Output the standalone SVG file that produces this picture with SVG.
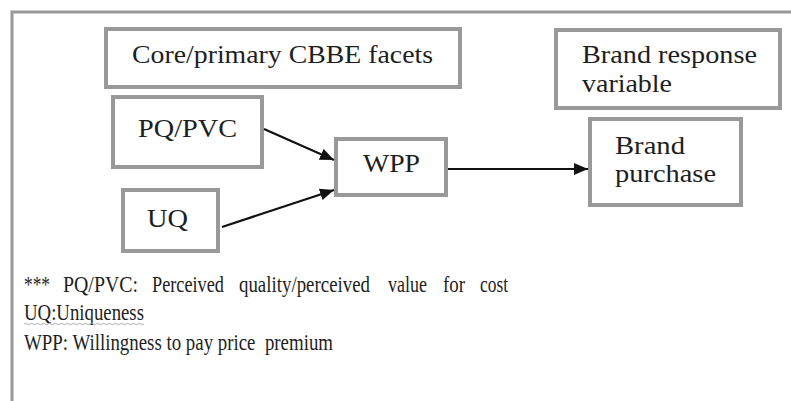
<svg xmlns="http://www.w3.org/2000/svg" width="791" height="401" viewBox="0 0 791 401">
<style>
.box{fill:#fff;stroke:#999;stroke-width:4}
.t{font-family:"Liberation Serif","Times New Roman",serif;font-size:25px;fill:#1e1e1e}
.l{font-family:"Liberation Serif","Times New Roman",serif;font-size:23px;fill:#1e1e1e}
.edge{stroke:#111;stroke-width:2.2;fill:none}
</style>
<defs>
<marker id="ah" markerUnits="userSpaceOnUse" markerWidth="15" markerHeight="13" refX="14" refY="6" orient="auto">
<path d="M0,0 L14,6 L0,12 z" fill="#111"/>
</marker>
</defs>
<rect width="791" height="401" fill="#fff"/>
<path d="M12,401 V12 H791" fill="none" stroke="#999" stroke-width="3"/>
<g id="core">
<rect class="box" x="106" y="29" width="354" height="58"/>
<text class="t" x="132" y="63" textLength="301" lengthAdjust="spacingAndGlyphs">Core/primary CBBE facets</text>
</g>
<g id="brand-response">
<rect class="box" x="556" y="30" width="224" height="78"/>
<text class="t" x="582" y="63" textLength="175" lengthAdjust="spacingAndGlyphs">Brand response</text>
<text class="t" x="582" y="92" textLength="90" lengthAdjust="spacingAndGlyphs">variable</text>
</g>
<g id="pqpvc">
<rect class="box" x="113" y="97" width="149" height="70"/>
<text class="t" x="138" y="137" textLength="99" lengthAdjust="spacingAndGlyphs">PQ/PVC</text>
</g>
<g id="uq">
<rect class="box" x="123" y="190" width="95" height="61"/>
<text class="t" x="147" y="227" textLength="41" lengthAdjust="spacingAndGlyphs">UQ</text>
</g>
<g id="wpp">
<rect class="box" x="336" y="139" width="110" height="56"/>
<text class="t" x="363" y="172" textLength="57" lengthAdjust="spacingAndGlyphs">WPP</text>
</g>
<g id="brand-purchase">
<rect class="box" x="590" y="119" width="151" height="86"/>
<text class="t" x="615" y="154" textLength="70" lengthAdjust="spacingAndGlyphs">Brand</text>
<text class="t" x="615" y="182" textLength="101" lengthAdjust="spacingAndGlyphs">purchase</text>
</g>
<g id="connectors">
<line class="edge" x1="264" y1="129" x2="334" y2="160" marker-end="url(#ah)"/>
<line class="edge" x1="222" y1="227" x2="334" y2="190" marker-end="url(#ah)"/>
<line class="edge" x1="448" y1="169" x2="588" y2="169" marker-end="url(#ah)"/>
</g>
<g id="legend">
<text class="l" x="24" y="292" textLength="26" lengthAdjust="spacingAndGlyphs">***</text>
<text class="l" x="63" y="292" textLength="75" lengthAdjust="spacingAndGlyphs">PQ/PVC:</text>
<text class="l" x="152" y="292" textLength="72" lengthAdjust="spacingAndGlyphs">Perceived</text>
<text class="l" x="239" y="292" textLength="131" lengthAdjust="spacingAndGlyphs">quality/perceived</text>
<text class="l" x="388" y="292" textLength="39" lengthAdjust="spacingAndGlyphs">value</text>
<text class="l" x="443" y="292" textLength="22" lengthAdjust="spacingAndGlyphs">for</text>
<text class="l" x="480" y="292" textLength="28" lengthAdjust="spacingAndGlyphs">cost</text>
<text class="l" x="24" y="320" textLength="120" lengthAdjust="spacingAndGlyphs">UQ:Uniqueness</text>
<path d="M24,324 q1.5,-1.5 3,0 t3,0 t3,0 t3,0 t3,0 t3,0 t3,0 t3,0 t3,0 t3,0 t3,0 t3,0 t3,0 t3,0 t3,0 t3,0 t3,0 t3,0 t3,0 t3,0 t3,0 t3,0 t3,0 t3,0 t3,0 t3,0 t3,0 t3,0 t3,0 t3,0 t3,0 t3,0 t3,0 t3,0 t3,0 t3,0 t3,0 t3,0 t3,0 t3,0" fill="none" stroke="#aaa" stroke-width="1"/>
<text class="l" x="24" y="350" textLength="309" lengthAdjust="spacingAndGlyphs" xml:space="preserve">WPP: Willingness to pay price  premium</text>
</g>
</svg>
